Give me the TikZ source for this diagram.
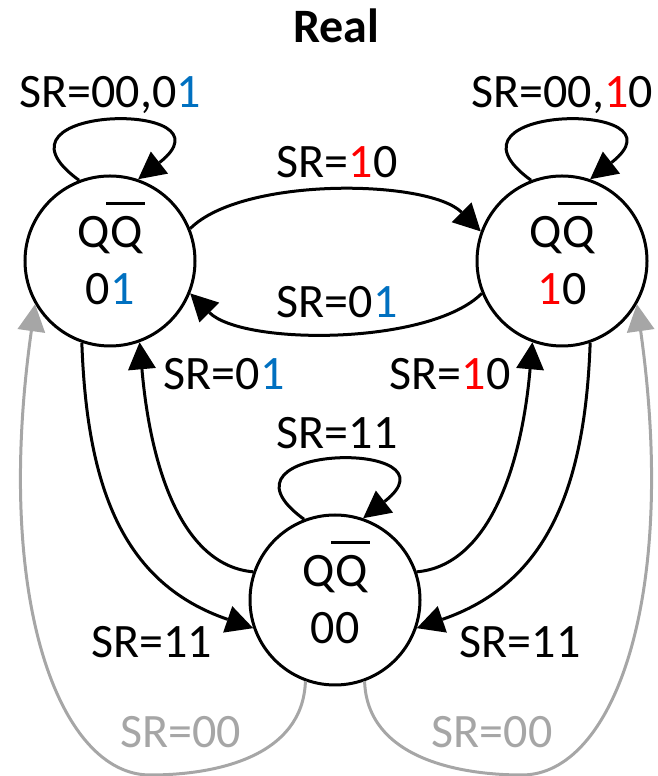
\documentclass[tikz,border=0pt]{standalone}
\usepackage{fontspec}
\setmainfont{Carlito}
\usetikzlibrary{arrows.meta}

\definecolor{bitblu}{HTML}{0070C0}
\definecolor{bitrosso}{HTML}{FF0000}
\definecolor{grigio}{HTML}{A6A6A6}

\newcommand{\bl}[1]{\textcolor{bitblu}{#1}}
\newcommand{\rs}[1]{\textcolor{bitrosso}{#1}}
% Q e Q negato
\newcommand{\qqbar}{Q\kern-0.08em\rlap{\smash{\rule[0.9em]{0.8em}{0.065em}}}\kern0.08em Q}

\begin{document}
\begin{tikzpicture}[x=1pt, y=1pt, line width=3pt,
		>={Triangle[length=27pt, width=28pt, line width=0pt]},
		every node/.style={font=\fontsize{48}{57}\selectfont},
		stato/.style={circle, draw, minimum size=170pt, inner sep=0pt, align=center},
		etic/.style={anchor=base, inner sep=0pt}]
		
		\useasboundingbox (0,0) rectangle (658,776);
		
		% Titolo
		\node[etic, font=\fontsize{48}{57}\selectfont\bfseries] (titolo) at (336,733) {Real};
		
		% Stati
		\node[stato] (L) at (110,515) {\qqbar\\0\bl{1}};
		\node[stato] (R) at (562,515) {\qqbar\\\rs{1}0};
		\node[stato] (B) at (335,176) {\qqbar\\00};
		
		% Anelli sugli stati
		\foreach \s in {L, R, B} {
			\draw[->] (\s.111) .. controls +(144:130) and +(38:130) .. (\s.71);
		}
		\node[etic] (lbl_L) at (110,668) {SR=00,0\bl{1}};
		\node[etic] (lbl_R) at (562,668) {SR=00,\rs{1}0};
		\node[etic] (lbl_B) at (337,327) {SR=11};
		
		% Archi tra L e R
		\draw[->] (L.22) to[out=45, in=135, looseness=0.65] (R.160);
		\draw[->] (R.202) to[out=225, in=-45, looseness=0.65] (L.338);
		\node[etic] (lbl_LR) at (337,598) {SR=\rs{1}0};
		\node[etic] (lbl_RL) at (337,458) {SR=0\bl{1}};
		
		% Archi verso e da B (lato sinistro)
		\draw[->] (B.161) .. controls +(175:70) and +(-85:130) .. (L.290);
		\draw[->] (L.251) .. controls +(-88:150) and +(161:135) .. (B.199);
		\node[etic] (lbl_BL) at (224,386) {SR=0\bl{1}};
		\node[etic] (lbl_LB) at (152,118) {SR=11};
		
		% Archi verso e da B (lato destro)
		\draw[->] (B.19) .. controls +(5:70) and +(-95:130) .. (R.250);
		\draw[->] (R.289) .. controls +(-92:150) and +(19:135) .. (B.341);
		\node[etic] (lbl_BR) at (450,386) {SR=\rs{1}0};
		\node[etic] (lbl_RB) at (520,118) {SR=11};
		
		% Ritorni grigi con SR=00
		\coordinate (G_sx) at (150,1);
		\coordinate (G_dx) at (522,1);
		\draw[->, grigio] (B.250) .. controls +(268:76) and +(0:65) .. (G_sx)
			.. controls +(180:90) and +(262:300) .. (L.210);
		\draw[->, grigio] (B.290) .. controls +(272:76) and +(180:65) .. (G_dx)
			.. controls +(0:90) and +(278:300) .. (R.330);
		\node[etic, text=grigio] (lbl_G_sx) at (181,28) {SR=00};
		\node[etic, text=grigio] (lbl_G_dx) at (492,28) {SR=00};
		
	\end{tikzpicture}
\end{document}
